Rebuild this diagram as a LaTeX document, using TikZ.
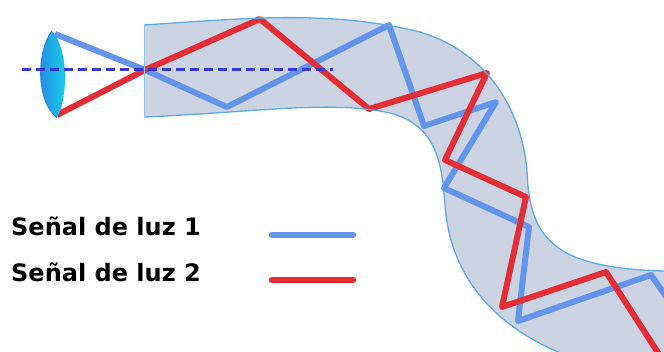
\documentclass[tikz,border=0pt]{standalone}
\usepackage{fontspec}
\setmainfont{DejaVu Sans}
\begin{document}
\definecolor{raysblue}{RGB}{100,148,236}
\definecolor{raysred}{RGB}{226,46,52}
\definecolor{tubefill}{RGB}{204,212,228}
\definecolor{tubeedge}{RGB}{96,170,228}
\definecolor{axisblue}{RGB}{56,56,214}
\definecolor{lensdark}{RGB}{40,130,225}
\definecolor{lenslight}{RGB}{20,215,240}
\tikzset{
  ray/.style={line width=6pt, line join=round},
  bluebeam/.style={ray, raysblue},
  redbeam/.style={ray, raysred},
  tubeline/.style={draw=tubeedge, line width=1.3pt},
  axisline/.style={axisblue, line width=3pt, dash pattern=on 9pt off 5pt},
  keyline/.style={line width=6.5pt, line cap=round},
  legendtext/.style={font=\bfseries\fontsize{24}{28}\selectfont, inner sep=0pt}
}
\begin{tikzpicture}[x=1pt, y=-1pt]
\useasboundingbox (0,0) rectangle (664,352);

% fibre: a bent tube running off the right and bottom edges
\begin{scope}
  \clip (0,0) rectangle (664,352);
  \fill[tubefill]
    (144,25) .. controls (250,18) and (330,10) .. (420,32)
    .. controls (480,50) and (520,100) .. (527,170)
    .. controls (529,240) and (555,268) .. (664,271)
    -- (680,271) -- (680,370) -- (585,362)
    .. controls (500,335) and (450,280) .. (445,205)
    .. controls (442,160) and (435,125) .. (390,113)
    .. controls (330,100) and (260,112) .. (144,117) -- cycle;

  % reflection points of both signals
  \coordinate (b0) at (55,34);
  \coordinate (x0) at (145,70);
  \coordinate (b1) at (227,107);
  \coordinate (b2) at (389,25);
  \coordinate (b3) at (424,126);
  \coordinate (b4) at (496,102);
  \coordinate (b5) at (444,188);
  \coordinate (b6) at (529,227);
  \coordinate (b7) at (518,321);
  \coordinate (b8) at (651,275);
  \coordinate (b9) at (672,305);

  \coordinate (r0) at (57,115);
  \coordinate (r1) at (260,19);
  \coordinate (r2) at (369,109);
  \coordinate (r3) at (487,73);
  \coordinate (r4) at (445,160);
  \coordinate (r5) at (526,197);
  \coordinate (r6) at (502,307);
  \coordinate (r7) at (606,272);
  \coordinate (r8) at (664,362);

  \draw[bluebeam] (b0) -- (x0) -- (b1) -- (b2) -- (b3) -- (b4) -- (b5)
    -- (b6) -- (b7) -- (b8) -- (b9);
  \draw[redbeam] (r0) -- (x0) -- (r1) -- (r2) -- (r3) -- (r4) -- (r5)
    -- (r6) -- (r7) -- (r8);

  % tube walls
  \draw[tubeline]
    (144,25) .. controls (250,18) and (330,10) .. (420,32)
    .. controls (480,50) and (520,100) .. (527,170)
    .. controls (529,240) and (555,268) .. (664,271);
  \draw[tubeline]
    (144,117) .. controls (260,112) and (330,100) .. (390,113)
    .. controls (435,125) and (442,160) .. (445,205)
    .. controls (450,280) and (500,335) .. (585,362);
  \draw[tubeedge!70, line width=0.6pt] (144,25) -- (144,117);
\end{scope}

% lens at the entrance
\shade[left color=lensdark, right color=lenslight]
  (52,31) .. controls (37,50) and (35,100) .. (57,118)
  .. controls (67,100) and (70,52) .. (52,31) -- cycle;
\draw[lensdark, line width=0.8pt]
  (52,31) .. controls (37,50) and (35,100) .. (57,118);

% optical axis
\coordinate (a0) at (22,70);
\coordinate (a1) at (333,70);
\draw[axisline] (a0) -- (a1);

% legend
\node[legendtext, anchor=base west] (lbl1) at (11,236) {Señal de luz 1};
\node[legendtext, anchor=base west] (lbl2) at (11,282) {Señal de luz 2};
\coordinate (k1a) at (272,235);
\coordinate (k1b) at (353,235);
\coordinate (k2a) at (272,280);
\coordinate (k2b) at (353,280);
\draw[keyline, raysblue] (k1a) -- (k1b);
\draw[keyline, raysred] (k2a) -- (k2b);
\end{tikzpicture}
\end{document}
